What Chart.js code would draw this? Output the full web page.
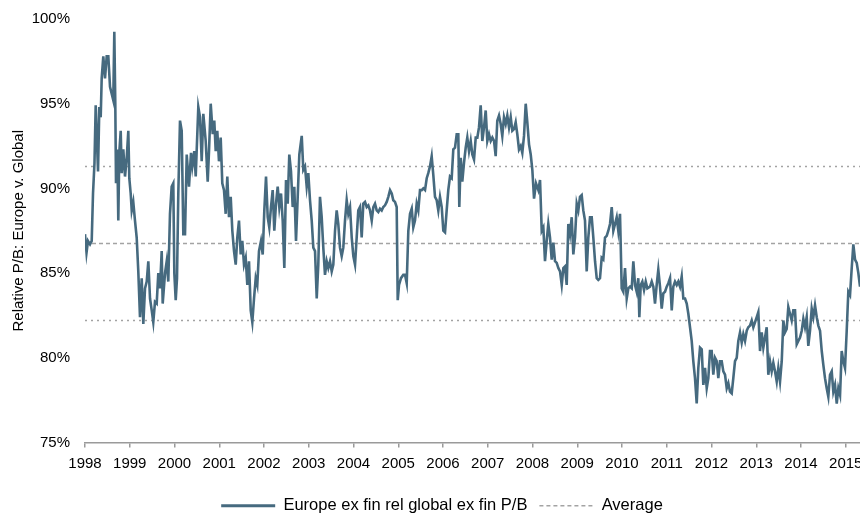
<!DOCTYPE html>
<html>
<head>
<meta charset="utf-8">
<script src="https://cdn.jsdelivr.net/npm/chart.js@4/dist/chart.umd.min.js"></script>
<style>
  html, body { margin: 0; padding: 0; background: #ffffff; }
  #wrap { width: 860px; height: 514px; position: relative; }
</style>
</head>
<body>
<div id="wrap"><canvas id="c"></canvas></div>
<script>
// ---- data (decimal years) ----
const dates = [
1998.000,1998.034,1998.067,1998.112,1998.150,1998.179,1998.212,1998.239,1998.291,1998.320,
1998.351,1998.373,1998.409,1998.447,1998.485,1998.521,1998.559,1998.632,1998.655,1998.677,
1998.693,1998.722,1998.744,1998.766,1998.798,1998.820,1998.856,1998.894,1998.932,1998.968,
1998.990,1999.021,1999.044,1999.079,1999.117,1999.155,1999.191,1999.229,1999.267,1999.303,
1999.341,1999.379,1999.415,1999.453,1999.491,1999.526,1999.564,1999.602,1999.638,1999.676,
1999.714,1999.736,1999.788,1999.826,1999.861,1999.899,1999.937,1999.973,1999.996,2000.027,
2000.056,2000.085,2000.123,2000.161,2000.197,2000.235,2000.273,2000.324,2000.369,2000.398,
2000.442,2000.474,2000.532,2000.570,2000.608,2000.644,2000.697,2000.742,2000.771,2000.809,
2000.854,2000.889,2000.921,2000.956,2000.994,2001.032,2001.068,2001.106,2001.144,2001.180,
2001.218,2001.256,2001.292,2001.330,2001.368,2001.403,2001.441,2001.479,2001.515,2001.553,
2001.591,2001.627,2001.665,2001.703,2001.739,2001.777,2001.815,2001.850,2001.888,2001.933,
2001.971,2002.007,2002.045,2002.083,2002.118,2002.156,2002.194,2002.230,2002.268,2002.306,
2002.342,2002.380,2002.418,2002.454,2002.492,2002.530,2002.565,2002.603,2002.641,2002.677,
2002.715,2002.753,2002.789,2002.843,2002.878,2002.916,2002.954,2002.990,2003.028,2003.066,
2003.102,2003.140,2003.178,2003.213,2003.251,2003.289,2003.325,2003.363,2003.401,2003.437,
2003.475,2003.513,2003.549,2003.587,2003.624,2003.660,2003.698,2003.736,2003.772,2003.810,
2003.848,2003.884,2003.922,2003.960,2003.996,2004.034,2004.071,2004.107,2004.145,2004.183,
2004.219,2004.257,2004.295,2004.331,2004.369,2004.407,2004.443,2004.480,2004.518,2004.554,
2004.592,2004.630,2004.666,2004.704,2004.742,2004.778,2004.816,2004.854,2004.889,2004.927,
2004.965,2004.988,2005.017,2005.061,2005.113,2005.151,2005.189,2005.225,2005.263,2005.301,
2005.336,2005.374,2005.412,2005.448,2005.486,2005.524,2005.560,2005.598,2005.636,2005.671,
2005.709,2005.747,2005.783,2005.821,2005.859,2005.895,2005.933,2005.971,2006.007,2006.045,
2006.082,2006.118,2006.156,2006.194,2006.230,2006.268,2006.306,2006.342,2006.364,2006.396,
2006.431,2006.469,2006.507,2006.543,2006.581,2006.619,2006.655,2006.693,2006.731,2006.767,
2006.804,2006.842,2006.878,2006.916,2006.954,2006.990,2007.028,2007.066,2007.102,2007.140,
2007.177,2007.213,2007.251,2007.289,2007.325,2007.363,2007.401,2007.437,2007.475,2007.513,
2007.549,2007.587,2007.624,2007.660,2007.698,2007.736,2007.772,2007.810,2007.848,2007.884,
2007.922,2007.960,2007.996,2008.034,2008.078,2008.130,2008.168,2008.206,2008.242,2008.279,
2008.317,2008.353,2008.391,2008.429,2008.465,2008.503,2008.541,2008.577,2008.615,2008.653,
2008.689,2008.726,2008.764,2008.800,2008.838,2008.876,2008.912,2008.950,2008.988,2009.024,
2009.061,2009.099,2009.135,2009.173,2009.211,2009.247,2009.285,2009.323,2009.359,2009.397,
2009.435,2009.470,2009.508,2009.546,2009.582,2009.620,2009.658,2009.694,2009.732,2009.770,
2009.806,2009.844,2009.881,2009.917,2009.955,2009.993,2010.029,2010.067,2010.105,2010.141,
2010.179,2010.217,2010.253,2010.291,2010.328,2010.364,2010.387,2010.418,2010.454,2010.492,
2010.530,2010.566,2010.626,2010.664,2010.700,2010.737,2010.775,2010.811,2010.849,2010.887,
2010.923,2010.961,2010.999,2011.035,2011.073,2011.111,2011.146,2011.184,2011.222,2011.258,
2011.296,2011.334,2011.370,2011.408,2011.446,2011.482,2011.520,2011.557,2011.593,2011.631,
2011.669,2011.705,2011.743,2011.781,2011.817,2011.855,2011.893,2011.929,2011.966,2012.004,
2012.040,2012.078,2012.116,2012.152,2012.190,2012.228,2012.264,2012.302,2012.340,2012.376,
2012.413,2012.451,2012.487,2012.525,2012.563,2012.599,2012.637,2012.675,2012.711,2012.749,
2012.787,2012.822,2012.860,2012.898,2012.934,2012.972,2013.010,2013.046,2013.084,2013.122,
2013.158,2013.196,2013.233,2013.269,2013.307,2013.345,2013.381,2013.419,2013.457,2013.493,
2013.531,2013.569,2013.605,2013.642,2013.680,2013.716,2013.754,2013.792,2013.828,2013.866,
2013.904,2013.940,2013.978,2014.016,2014.052,2014.089,2014.127,2014.163,2014.201,2014.239,
2014.275,2014.313,2014.351,2014.387,2014.425,2014.463,2014.498,2014.536,2014.574,2014.610,
2014.648,2014.686,2014.722,2014.760,2014.798,2014.834,2014.872,2014.909,2014.945,2014.983,
2015.021,2015.057,2015.095,2015.133,2015.169,2015.207,2015.245,2015.281,2015.318
];

const relPB = [
87.3,86.2,86.9,86.7,86.9,89.7,91.5,94.9,91.0,94.8,
94.2,96.5,97.8,96.5,97.8,97.8,96.0,95.2,99.25,95.0,
90.3,92.3,88.1,92.1,93.4,90.9,92.3,90.7,91.8,93.4,
90.6,89.7,88.7,89.2,88.1,87.1,85.1,82.4,84.7,82.0,
84.1,84.5,85.7,83.5,82.8,82.1,83.3,83.2,85.0,84.1,
86.3,83.2,85.0,85.7,84.5,88.5,90.1,90.3,85.0,83.4,
84.7,89.7,94.0,93.4,87.3,87.3,92.0,90.1,92.1,91.3,
92.2,90.7,94.8,94.2,91.6,94.4,92.8,90.4,92.2,95.0,
93.2,94.0,92.2,93.4,91.6,93.0,90.3,89.9,88.5,90.7,
88.3,89.5,87.5,86.3,85.5,87.1,88.1,86.1,86.9,85.5,
85.9,84.3,85.7,82.8,82.1,83.5,84.7,84.3,86.3,86.9,
86.1,88.7,90.7,88.3,87.7,88.9,89.9,87.5,89.1,90.1,
88.9,89.7,88.1,85.3,90.5,89.1,92.0,91.0,88.9,90.1,
86.9,89.5,92.0,93.1,91.1,91.3,90.1,90.9,89.3,88.1,
86.5,86.3,83.5,85.5,89.5,88.3,86.5,84.9,85.7,85.3,
85.7,85.1,85.5,87.5,88.7,87.9,86.5,86.0,86.5,88.1,
89.3,88.5,88.9,87.1,86.0,85.5,87.1,88.7,88.9,87.1,
89.1,89.2,88.9,89.0,88.7,88.1,88.9,89.1,88.7,88.6,
88.8,88.7,88.9,89.0,89.2,89.5,89.9,89.7,89.3,89.2,
88.9,83.4,84.3,84.7,84.9,84.9,84.4,87.5,88.5,88.8,
87.7,88.1,89.1,88.7,89.9,89.9,90.0,89.9,90.6,90.9,
91.3,91.9,90.8,89.5,89.3,88.7,89.5,88.9,87.5,87.4,
88.7,89.9,90.7,90.6,92.3,92.4,93.2,93.2,88.9,91.8,
90.4,91.5,92.4,93.0,92.2,92.8,92.0,91.7,93.0,93.0,
93.6,94.9,92.8,93.6,94.6,92.8,93.2,92.8,93.0,92.8,
91.9,94.0,94.3,93.8,93.1,94.2,93.8,94.3,93.6,94.2,
93.4,93.5,93.9,93.2,92.3,92.5,92.1,93.1,95.0,93.9,
92.6,92.0,91.1,89.4,90.3,89.9,90.5,87.5,87.7,85.7,
86.9,87.9,87.1,85.8,86.8,85.7,85.6,85.3,85.1,84.3,
85.3,85.4,84.3,87.9,87.3,88.3,86.1,87.1,89.1,88.7,
89.5,89.6,88.7,88.1,85.1,87.1,88.3,88.3,87.1,85.7,
84.7,84.6,84.7,85.9,85.8,87.1,87.2,87.5,87.9,88.9,
87.5,87.9,88.3,87.5,88.5,84.1,83.9,85.3,83.5,84.1,
84.2,84.1,85.7,84.3,83.9,84.7,82.4,84.3,84.5,84.0,
84.5,84.1,84.2,84.5,84.2,83.2,84.3,85.2,84.2,82.9,
83.8,83.9,84.2,84.4,84.7,82.8,84.2,84.5,84.3,84.5,
84.2,84.8,83.5,83.5,83.2,82.6,81.8,81.0,79.8,78.8,
77.3,79.4,80.6,80.5,78.4,79.4,78.2,78.8,80.4,80.4,
79.0,80.0,79.8,78.8,79.8,79.8,79.2,79.0,78.2,78.5,
78.0,77.9,78.8,79.8,80.0,81.0,81.5,80.9,81.4,81.0,
81.6,81.8,81.9,82.2,81.8,82.1,82.4,82.7,80.4,81.5,
80.6,81.2,81.8,79.0,79.8,79.2,79.7,79.2,78.6,79.4,
78.6,79.8,82.2,81.5,81.7,83.0,82.6,82.2,82.8,82.8,
80.8,81.0,81.2,81.6,82.3,81.8,82.4,80.7,81.6,82.9,
82.4,83.1,82.4,81.9,81.6,80.4,79.6,78.8,78.2,77.7,
79.0,79.2,78.0,78.4,77.3,78.2,77.8,80.4,79.8,79.4,
81.6,83.9,83.7,85.3,86.7,85.8,85.6,85.0,84.2
];

const averageLevel = 86.75;
const bandUpper = 91.3;
const bandLower = 82.2;
const yearTicks = [1998,1999,2000,2001,2002,2003,2004,2005,2006,2007,2008,2009,2010,2011,2012,2013,2014,2015];
const seriesLabel = 'Europe ex fin rel global ex fin P/B';
const averageLabel = 'Average';
const yTitle = 'Relative P/B: Europe v. Global';

// ---- chart ----
const xMin = dates[0], xMax = dates[dates.length - 1];
const lineColor = '#466a7f';
const refColor = '#a3a3a3';
const FONT = "'Liberation Sans', Arial, sans-serif";
Chart.defaults.font.family = FONT;
Chart.defaults.font.size = 15;
Chart.defaults.color = '#000000';

const flat = (v) => [{x: xMin, y: v}, {x: xMax, y: v}];

const legendShift = {
  id: 'legendShift',
  afterLayout(chart) {
    const lg = chart.legend;
    if (lg) { lg.left += 12; lg.right += 12; }
  }
};

new Chart(document.getElementById('c'), {
  type: 'line',
  plugins: [legendShift],
  data: {
    datasets: [
      { label: seriesLabel, data: dates.map((d, i) => ({x: d, y: relPB[i]})),
        borderColor: lineColor, backgroundColor: lineColor, borderWidth: 2.6,
        pointRadius: 0, pointHoverRadius: 0, tension: 0, order: 0 },
      { label: averageLabel, data: flat(averageLevel),
        borderColor: refColor, backgroundColor: refColor, borderWidth: 1.5, borderDash: [4, 3],
        pointRadius: 0, pointHoverRadius: 0, order: 1 },
      { label: '+1sd', data: flat(bandUpper),
        borderColor: refColor, borderWidth: 1.5, borderDash: [2, 4],
        pointRadius: 0, pointHoverRadius: 0, order: 2 },
      { label: '-1sd', data: flat(bandLower),
        borderColor: refColor, borderWidth: 1.5, borderDash: [2, 4],
        pointRadius: 0, pointHoverRadius: 0, order: 3 }
    ]
  },
  options: {
    responsive: true,
    maintainAspectRatio: false,
    animation: false,
    layout: { padding: { top: 19, right: 0, left: 0, bottom: -10 } },
    scales: {
      x: {
        type: 'linear',
        min: xMin, max: xMax,
        afterBuildTicks: (s) => { s.ticks = yearTicks.map(v => ({value: v})); },
        afterFit: (s) => { s.height = 43; s.paddingLeft = 0; s.paddingRight = 0; },
        ticks: { autoSkip: false, maxRotation: 0, padding: 7, callback: (v) => String(v),
                 font: { size: 15 }, color: '#000' },
        grid: { drawOnChartArea: false, drawTicks: true, tickLength: 5, color: '#9a9a9a', lineWidth: 1.5 },
        border: { display: true, color: '#9a9a9a', width: 1.5 }
      },
      y: {
        min: 75, max: 100,
        afterFit: (s) => { s.width = 85; s.paddingTop = 0; s.paddingBottom = 0; },
        ticks: { stepSize: 5, padding: 15, callback: (v) => v + '%', font: { size: 15 }, color: '#000' },
        grid: { display: false, drawTicks: false },
        border: { display: false },
        title: { display: true, text: yTitle, font: { size: 15 }, color: '#000', padding: { top: 10, bottom: 0 } }
      }
    },
    plugins: {
      tooltip: { enabled: false },
      legend: {
        position: 'bottom',
        labels: {
          usePointStyle: true,
          pointStyle: 'line',
          pointStyleWidth: 54,
          padding: 12,
          color: '#000',
          font: { size: 16.5 },
          generateLabels: (chart) => {
            const base = Chart.defaults.plugins.legend.labels.generateLabels(chart);
            return base.filter(it => it.datasetIndex <= 1).map(it => {
              const ds = chart.data.datasets[it.datasetIndex];
              it.lineDash = it.datasetIndex === 0 ? [] : [4, 3];
              it.lineWidth = it.datasetIndex === 0 ? 3 : 1.6;
              it.strokeStyle = ds.borderColor;
              it.fillStyle = ds.borderColor;
              return it;
            });
          }
        }
      }
    }
  }
});
</script>
</body>
</html>
